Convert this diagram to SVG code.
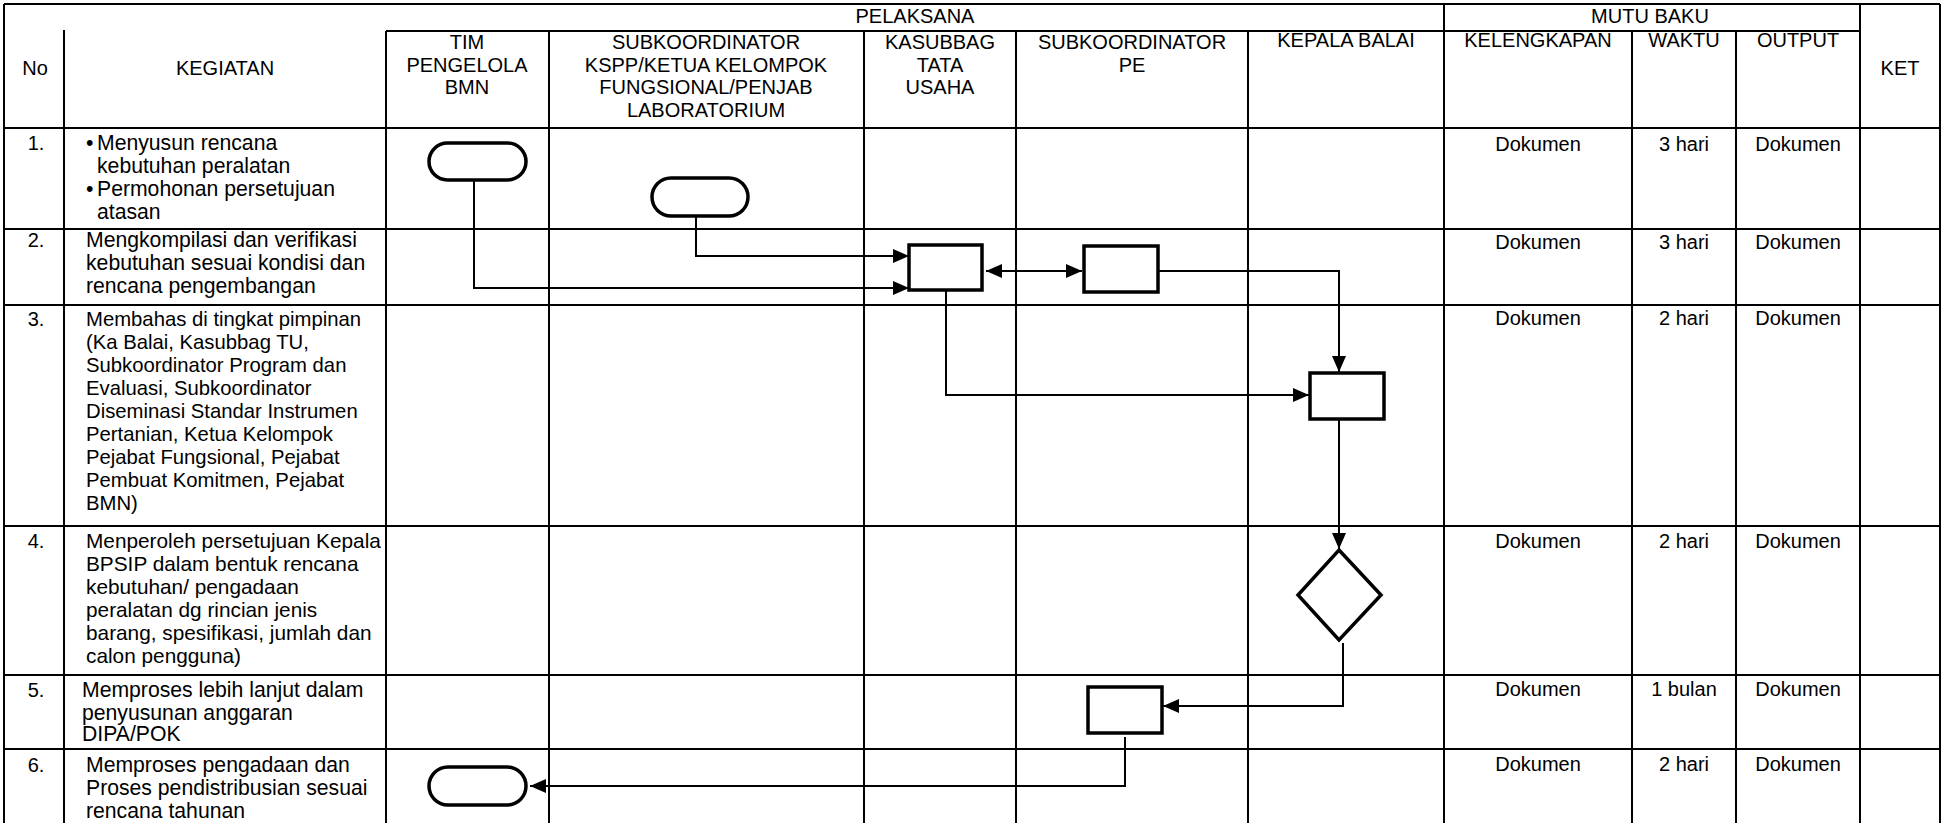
<svg xmlns="http://www.w3.org/2000/svg" width="1944" height="823" viewBox="0 0 1944 823">
<style>
.g{stroke:#000;stroke-width:2;fill:none}
.t{font-family:"Liberation Sans",Arial,sans-serif;font-size:20px;fill:#000}
.w{font-size:21.2px}
.w4{font-size:20.8px}
.r3{font-size:20.3px}
.c{text-anchor:middle}
.s{fill:#fff;stroke:#000;stroke-width:3.5}
.k{fill:none;stroke:#000;stroke-width:2}
</style>
<defs>
<marker id="ah" viewBox="0 0 16 14" refX="16" refY="7" markerWidth="16" markerHeight="14" markerUnits="userSpaceOnUse" orient="auto-start-reverse">
<path d="M0,0 L16,7 L0,14 Z" fill="#000"/>
</marker>
</defs>
<rect x="0" y="0" width="1944" height="823" fill="#fff"/>
<g id="grid" class="g">
<path d="M4,4 H1940 M386,31 H1860 M4,128 H1940 M4,229 H1940 M4,305 H1940 M4,526 H1940 M4,675 H1940 M4,749 H1940"/>
<path d="M4,4 V823 M64,30 V823 M386,31 V823 M549,31 V823 M864,31 V823 M1016,31 V823 M1248,31 V823 M1444,4 V823 M1632,31 V823 M1736,31 V823 M1860,4 V823 M1940,4 V823"/>
</g>
<g id="header" class="t">
<text x="915" y="23" class="c">PELAKSANA</text>
<text x="1650" y="23" class="c">MUTU BAKU</text>
<text x="35" y="75" class="c">No</text>
<text x="225" y="75" class="c">KEGIATAN</text>
<text x="467" y="49" class="c">TIM</text>
<text x="467" y="71.5" class="c">PENGELOLA</text>
<text x="467" y="94" class="c">BMN</text>
<text x="706" y="49" class="c">SUBKOORDINATOR</text>
<text x="706" y="71.5" class="c">KSPP/KETUA KELOMPOK</text>
<text x="706" y="94" class="c">FUNGSIONAL/PENJAB</text>
<text x="706" y="116.5" class="c">LABORATORIUM</text>
<text x="940" y="49" class="c">KASUBBAG</text>
<text x="940" y="71.5" class="c">TATA</text>
<text x="940" y="94" class="c">USAHA</text>
<text x="1132" y="49" class="c">SUBKOORDINATOR</text>
<text x="1132" y="71.5" class="c">PE</text>
<text x="1346" y="47" class="c">KEPALA BALAI</text>
<text x="1538" y="47" class="c">KELENGKAPAN</text>
<text x="1684" y="47" class="c">WAKTU</text>
<text x="1798" y="47" class="c">OUTPUT</text>
<text x="1900" y="75" class="c">KET</text>
</g>
<g id="row1" class="t">
<text x="36" y="150" class="c">1.</text>
<g class="w">
<text x="86" y="150">•</text><text x="97" y="150">Menyusun rencana</text>
<text x="97" y="173">kebutuhan peralatan</text>
<text x="86" y="196">•</text><text x="97" y="196">Permohonan persetujuan</text>
<text x="97" y="219">atasan</text>
</g>
<text x="1538" y="151" class="c">Dokumen</text><text x="1684" y="151" class="c">3 hari</text><text x="1798" y="151" class="c">Dokumen</text>
</g>
<g id="row2" class="t">
<text x="36" y="247" class="c">2.</text>
<g class="w">
<text x="86" y="247">Mengkompilasi dan verifikasi</text>
<text x="86" y="270">kebutuhan sesuai kondisi dan</text>
<text x="86" y="293">rencana pengembangan</text>
</g>
<text x="1538" y="249" class="c">Dokumen</text><text x="1684" y="249" class="c">3 hari</text><text x="1798" y="249" class="c">Dokumen</text>
</g>
<g id="row3" class="t">
<text x="36" y="326" class="c">3.</text>
<g class="r3">
<text x="86" y="326">Membahas di tingkat pimpinan</text>
<text x="86" y="349">(Ka Balai, Kasubbag TU,</text>
<text x="86" y="372">Subkoordinator Program dan</text>
<text x="86" y="395">Evaluasi, Subkoordinator</text>
<text x="86" y="418">Diseminasi Standar Instrumen</text>
<text x="86" y="441">Pertanian, Ketua Kelompok</text>
<text x="86" y="464">Pejabat Fungsional, Pejabat</text>
<text x="86" y="487">Pembuat Komitmen, Pejabat</text>
<text x="86" y="510">BMN)</text>
</g>
<text x="1538" y="325" class="c">Dokumen</text><text x="1684" y="325" class="c">2 hari</text><text x="1798" y="325" class="c">Dokumen</text>
</g>
<g id="row4" class="t">
<text x="36" y="548" class="c">4.</text>
<g class="w4">
<text x="86" y="548">Menperoleh persetujuan Kepala</text>
<text x="86" y="571">BPSIP dalam bentuk rencana</text>
<text x="86" y="594">kebutuhan/ pengadaan</text>
<text x="86" y="617">peralatan dg rincian jenis</text>
<text x="86" y="640">barang, spesifikasi, jumlah dan</text>
<text x="86" y="663">calon pengguna)</text>
</g>
<text x="1538" y="548" class="c">Dokumen</text><text x="1684" y="548" class="c">2 hari</text><text x="1798" y="548" class="c">Dokumen</text>
</g>
<g id="row5" class="t">
<text x="36" y="697" class="c">5.</text>
<g class="w">
<text x="82" y="697">Memproses lebih lanjut dalam</text>
<text x="82" y="720">penyusunan anggaran</text>
<text x="82" y="741">DIPA/POK</text>
</g>
<text x="1538" y="696" class="c">Dokumen</text><text x="1684" y="696" class="c">1 bulan</text><text x="1798" y="696" class="c">Dokumen</text>
</g>
<g id="row6" class="t">
<text x="36" y="772" class="c">6.</text>
<g class="w">
<text x="86" y="772">Memproses pengadaan dan</text>
<text x="86" y="795">Proses pendistribusian sesuai</text>
<text x="86" y="818">rencana tahunan</text>
</g>
<text x="1538" y="771" class="c">Dokumen</text><text x="1684" y="771" class="c">2 hari</text><text x="1798" y="771" class="c">Dokumen</text>
</g>
<g id="connectors" class="k">
<path d="M474,180 V288 H909" marker-end="url(#ah)"/>
<path d="M696,216 V256 H909" marker-end="url(#ah)"/>
<path d="M986,271 H1082" marker-start="url(#ah)" marker-end="url(#ah)"/>
<path d="M1158,271 H1339 V372" marker-end="url(#ah)"/>
<path d="M946,290 V395 H1309" marker-end="url(#ah)"/>
<path d="M1339,419 V549" marker-end="url(#ah)"/>
<path d="M1343,643 V706 H1163" marker-end="url(#ah)"/>
<path d="M1125,737 V786 H530" marker-end="url(#ah)"/>
</g>
<g id="n1"><rect class="s" x="429" y="143" width="97" height="37" rx="18.5"/></g>
<g id="n2"><rect class="s" x="652" y="178" width="96" height="38" rx="19"/></g>
<g id="n3"><rect class="s" x="909" y="245" width="73" height="45"/></g>
<g id="n4"><rect class="s" x="1084" y="246" width="74" height="46"/></g>
<g id="n5"><rect class="s" x="1310" y="373" width="74" height="46"/></g>
<g id="n6"><path class="s" d="M1339,550 L1381,595 L1339,640 L1298,595 Z"/></g>
<g id="n7"><rect class="s" x="1088" y="687" width="74" height="46"/></g>
<g id="n8"><rect class="s" x="429" y="767" width="97" height="38" rx="19"/></g>
</svg>
